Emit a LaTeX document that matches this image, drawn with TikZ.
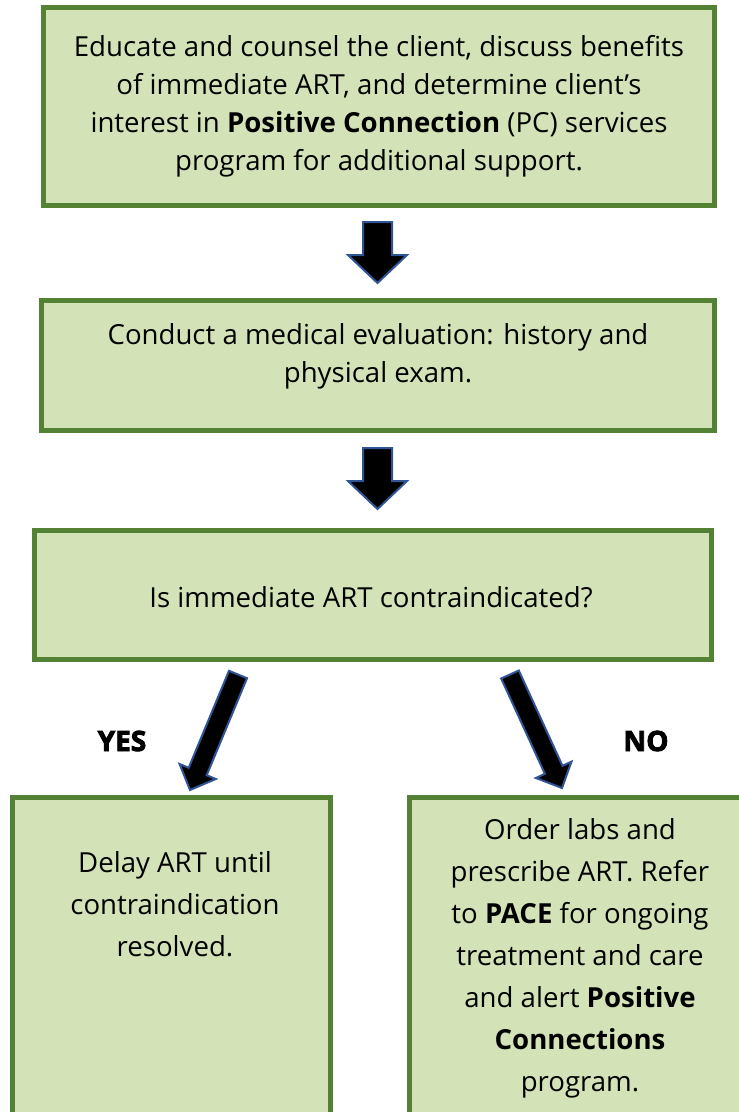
\documentclass[tikz,border=0pt]{standalone}
\usepackage{fontspec}
\setmainfont{Open Sans}
\definecolor{boxfill}{HTML}{D3E3B7}
\definecolor{boxgreen}{HTML}{548235}
\definecolor{arrowblue}{HTML}{2F5597}
\begin{document}
\begin{tikzpicture}[x=1pt,y=-1pt]
\tikzset{
  greenbox/.style={draw=boxgreen, fill=boxfill, line width=5pt, inner sep=0pt},
  boxtext/.style={align=center, inner sep=0pt, font=\fontsize{27.6}{38}\selectfont},
  boxtextb/.style={align=center, inner sep=0pt, font=\fontsize{27.6}{42}\selectfont},
  blockarrow/.style={fill=black, draw=arrowblue, line width=2pt, line join=miter},
  answer/.style={inner sep=0pt, font=\fontsize{28}{30}\selectfont\bfseries\addfontfeature{FakeBold=3}}
}
\useasboundingbox (0,0) rectangle (739,1112);
\clip (0,0) rectangle (739,1112);
\fill[white] (0,0) rectangle (739,1112);
% boxes
\node[greenbox, minimum width=671pt, minimum height=198pt] (b1) at (379,106.5) {};
\node[greenbox, minimum width=673pt, minimum height=130pt] (b2) at (378,365.5) {};
\node[greenbox, minimum width=677pt, minimum height=129pt] (b3) at (373,595) {};
\node[greenbox, minimum width=318pt, minimum height=325pt] (b4) at (171.5,960) {};
\node[greenbox, minimum width=332pt, minimum height=325pt] (b5) at (575.5,960) {};
% texts
\node[boxtext] (t1) at (379,106) {Educate and counsel the client, discuss benefits\\of immediate ART, and determine client’s\\interest in \textbf{Positive Connection} (PC) services\\program for additional support.};
\node[boxtext] (t2) at (378,356) {Conduct a medical evaluation: history and\\physical exam.};
\node[boxtext] (t3) at (371,597) {Is immediate ART contraindicated?};
\node[boxtextb] (t4) at (175,904) {Delay ART until\\contraindication\\resolved.};
\node[boxtextb] (t5) at (580,958) {Order labs and\\prescribe ART. Refer\\to \textbf{PACE} for ongoing\\treatment and care\\and alert \textbf{Positive}\\\textbf{Connections}\\program.};
\node[answer] (yes) at (122,741) {YES};
\node[answer] (no) at (646,741) {NO};
% block arrows
\draw[blockarrow] (363,222) -- (392,222) -- (392,255) -- (407,255) -- (377.5,283) -- (348,255) -- (363,255) -- cycle;
\draw[blockarrow] (363,448) -- (392,448) -- (392,481) -- (407,481) -- (377.5,509) -- (348,481) -- (363,481) -- cycle;
\draw[blockarrow] (229.0,670.8) -- (247.0,678.2) -- (206.7,775.2) -- (215.8,779.0) -- (190,790) -- (179.6,764.0) -- (188.7,767.8) -- cycle;
\draw[blockarrow] (518.8,670.5) -- (501.2,678.5) -- (544.9,773.8) -- (535.9,778.0) -- (562,788) -- (571.5,761.6) -- (562.5,765.8) -- cycle;
\end{tikzpicture}
\end{document}
